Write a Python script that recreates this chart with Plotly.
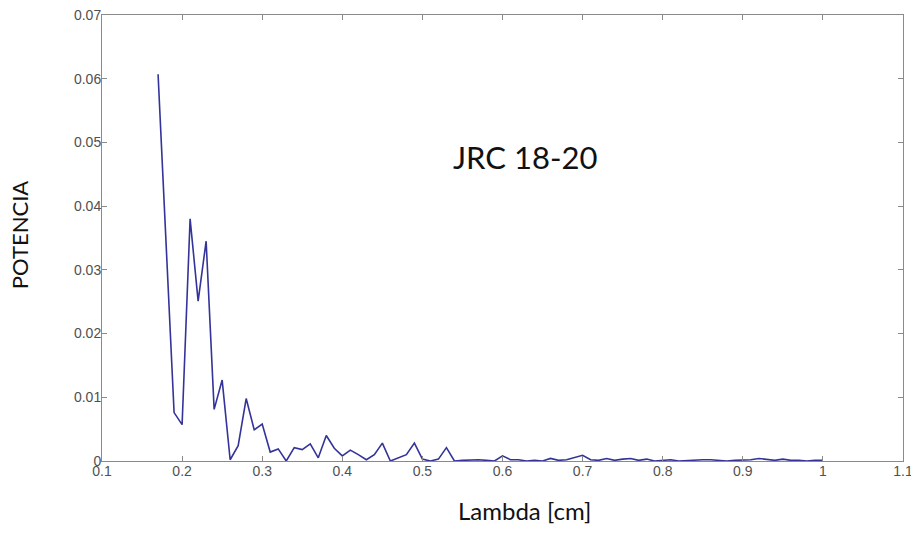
import plotly.graph_objects as go

lambda_cm = [0.17, 0.19, 0.20, 0.21, 0.22, 0.23, 0.24, 0.25, 0.26, 0.27, 0.28, 0.29,
             0.30, 0.31, 0.32, 0.33, 0.34, 0.35, 0.36, 0.37, 0.38, 0.39, 0.40, 0.41,
             0.42, 0.43, 0.44, 0.45, 0.46, 0.47, 0.48, 0.49, 0.50, 0.51, 0.52, 0.53,
             0.54, 0.55, 0.56, 0.57, 0.58, 0.59, 0.60, 0.61, 0.62, 0.63, 0.64, 0.65,
             0.66, 0.67, 0.68, 0.69, 0.70, 0.71, 0.72, 0.73, 0.74, 0.75, 0.76, 0.77,
             0.78, 0.79, 0.80, 0.81, 0.82, 0.83, 0.84, 0.85, 0.86, 0.87, 0.88, 0.89,
             0.90, 0.91, 0.92, 0.93, 0.94, 0.95, 0.96, 0.97, 0.98, 0.99, 1.00]

potencia = [0.0607, 0.0076, 0.0057, 0.0380, 0.0251, 0.0345, 0.0081, 0.0127, 0.0002, 0.0024,
            0.0098, 0.0049, 0.0058, 0.0014, 0.0019, 0.0000, 0.0021, 0.0018, 0.0027, 0.0005,
            0.0040, 0.0020, 0.0008, 0.0017, 0.0010, 0.0002, 0.0010, 0.0028, 0.0000, 0.0005,
            0.0010, 0.0028, 0.0003, 0.0000, 0.0003, 0.0021, 0.0000, 0.0001, 0.0002, 0.0002,
            0.0001, 0.0000, 0.0008, 0.0002, 0.0002, 0.0000, 0.0001, 0.0000, 0.0004, 0.0001,
            0.0002, 0.0006, 0.0009, 0.0002, 0.0001, 0.0004, 0.0001, 0.0003, 0.0004, 0.0001,
            0.0003, 0.0000, 0.0001, 0.0002, 0.0000, 0.0001, 0.0001, 0.0002, 0.0002, 0.0001,
            0.0000, 0.0001, 0.0001, 0.0002, 0.0004, 0.0002, 0.0001, 0.0003, 0.0001, 0.0001,
            0.0000, 0.0001, 0.0001]

y_tickvals = [0, 0.01, 0.02, 0.03, 0.04, 0.05, 0.06, 0.07]
y_ticktext = ["0", "0.01", "0.02", "0.03", "0.04", "0.05", "0.06", "0.07"]
x_tickvals = [0.1, 0.2, 0.3, 0.4, 0.5, 0.6, 0.7, 0.8, 0.9, 1.0, 1.1]
x_ticktext = ["0.1", "0.2", "0.3", "0.4", "0.5", "0.6", "0.7", "0.8", "0.9", "1", "1.1"]

fig = go.Figure()
fig.add_trace(go.Scatter(x=lambda_cm, y=potencia, mode="lines",
                         line=dict(color="#33339a", width=1.6), showlegend=False))

axis_common = dict(showgrid=False, zeroline=False, showline=True, linecolor="#8a8a8a",
                   linewidth=1, mirror="ticks", ticks="inside", ticklen=5,
                   tickcolor="#8a8a8a", ticklabeloverflow="allow", automargin=False,
                   tickfont=dict(family="Liberation Sans", size=14, color="#505050"))

fig.update_xaxes(range=[0.1, 1.1], tickvals=x_tickvals, ticktext=x_ticktext,
                 ticklabelstandoff=-3, **axis_common)
fig.update_yaxes(range=[0, 0.07], tickvals=y_tickvals, ticktext=y_ticktext,
                 ticklabelstandoff=-3, **axis_common)

fig.add_annotation(x=0.6275, y=0.0477, xref="x", yref="y", text="JRC 18-20", showarrow=False,
                   xanchor="center", yanchor="middle",
                   font=dict(family="Lato", size=31, color="#111111"))
fig.add_annotation(x=0.528, y=-0.11, xref="paper", yref="paper", text="Lambda [cm]",
                   xanchor="center", yanchor="middle",
                   showarrow=False, font=dict(family="Lato", size=24, color="#111111"))
fig.add_annotation(x=-0.102, y=0.507, xref="paper", yref="paper", text="POTENCIA",
                   xanchor="center", yanchor="middle",
                   textangle=-90, showarrow=False, font=dict(family="Lato", size=22, color="#111111"))

fig.update_layout(width=911, height=546, margin=dict(l=102, r=8, t=15, b=85),
                  plot_bgcolor="white", paper_bgcolor="white")

# remove the default 8px body margin so the figure fills the window exactly
fig.write_html("out.html", config={"displayModeBar": False},
               post_script="document.body.style.margin='0';")
